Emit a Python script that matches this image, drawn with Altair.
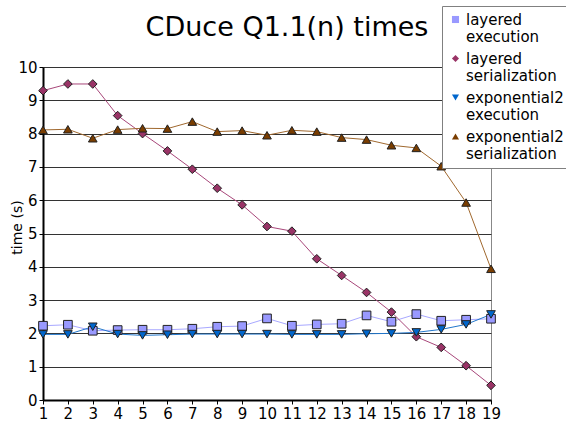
import altair as alt
import pandas as pd

# problem size n
n_values = list(range(1, 20))

# timings in seconds
layered_execution = [2.23, 2.26, 2.08, 2.10, 2.11, 2.11, 2.14, 2.20, 2.22, 2.45,
                     2.23, 2.27, 2.29, 2.54, 2.35, 2.58, 2.38, 2.41, 2.44]
layered_serialization = [9.29, 9.49, 9.49, 8.54, 8.00, 7.48, 6.93, 6.36, 5.86, 5.21,
                         5.07, 4.24, 3.74, 3.23, 2.64, 1.90, 1.58, 1.03, 0.44]
exponential2_execution = [1.97, 1.97, 2.20, 1.98, 1.94, 1.96, 1.98, 1.98, 1.98, 1.98,
                          1.97, 1.97, 1.97, 1.99, 2.00, 2.03, 2.12, 2.27, 2.57]
exponential2_serialization = [8.11, 8.13, 7.86, 8.12, 8.16, 8.15, 8.36, 8.06, 8.09, 7.95,
                              8.10, 8.06, 7.88, 7.82, 7.65, 7.57, 7.02, 5.93, 3.94]

series_names = ["layered execution", "layered serialization",
                "exponential2 execution", "exponential2 serialization"]
series_values = [layered_execution, layered_serialization,
                 exponential2_execution, exponential2_serialization]

line_colors = ["#a8a8ff", "#a8477a", "#2277cc", "#a0682e"]
fill_colors = ["#9999ff", "#993366", "#0066cc", "#7a3d00"]
shapes = ["square", "diamond", "triangle-down", "triangle-up"]

rows = []
for name, vals in zip(series_names, series_values):
    for n, v in zip(n_values, vals):
        rows.append({"n": n, "time": v, "series": name})
df = pd.DataFrame(rows)

x_enc = alt.X("n:Q",
              scale=alt.Scale(domain=[1, 19], nice=False, zero=False),
              axis=alt.Axis(values=n_values, format="d", title=None, grid=False,
                            domainColor="#000", domainWidth=2, tickColor="#000",
                            tickSize=4, labelFontSize=15, labelColor="#000",
                            labelPadding=2, labelOverlap=False, labelFlush=False))
y_enc = alt.Y("time:Q",
              scale=alt.Scale(domain=[0, 10], nice=False),
              axis=alt.Axis(values=list(range(0, 11)), title="time (s)",
                            grid=True, gridColor="#333333", gridWidth=1,
                            domainColor="#000", domainWidth=2, tickColor="#000",
                            tickSize=4, labelFontSize=15, labelColor="#000",
                            labelPadding=2, labelOverlap=False, labelFlush=False,
                            titleFontSize=14, titleFontWeight="normal",
                            titleColor="#000", titleAngle=-90,
                            titleBaseline="middle", titleAlign="center",
                            titleX=-26, titleY=160))

lines = alt.Chart(df).mark_line(strokeWidth=1).encode(
    x=x_enc, y=y_enc,
    color=alt.Color("series:N",
                    scale=alt.Scale(domain=series_names, range=line_colors),
                    legend=None),
)

# boxed legend in the top-right corner, labels broken after the first word
series_legend = alt.Legend(
    title=None, orient="none", legendX=399, legendY=-61,
    labelExpr="split(datum.label, ' ')",
    padding=6, strokeColor="#808080", fillColor="white",
    labelFontSize=15, labelColor="#000", labelLimit=200,
    symbolSize=50, symbolOpacity=1, symbolStrokeColor="#222222",
    symbolStrokeWidth=1, rowPadding=6, labelOffset=3,
)

points = alt.Chart(df).mark_point(filled=True, size=75, opacity=1,
                                  stroke="#222222", strokeWidth=1).encode(
    x=x_enc, y=y_enc,
    fill=alt.Fill("series:N",
                  scale=alt.Scale(domain=series_names, range=fill_colors),
                  legend=series_legend),
    shape=alt.Shape("series:N",
                    scale=alt.Scale(domain=series_names, range=shapes),
                    legend=series_legend),
)

chart = alt.layer(lines, points).resolve_scale(
    color="independent", fill="independent", shape="independent"
).properties(
    width=448, height=333,
    title=alt.TitleParams("CDuce Q1.1(n) times", fontSize=27,
                          fontWeight="normal", color="#000", anchor="middle",
                          dx=20, dy=52, offset=16),
    autosize=alt.AutoSizeParams(type="none"),
    padding={"left": 43, "top": 67, "right": 75, "bottom": 23},
).configure(
    font="DejaVu Sans",
).configure_view(
    stroke="#888", strokeWidth=1,
)

chart.save("out.html", embed_options={"renderer": "svg", "actions": False})
